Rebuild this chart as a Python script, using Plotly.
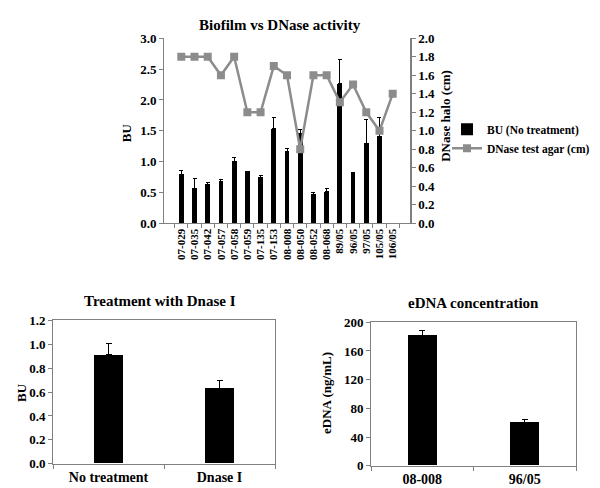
import plotly.graph_objects as go

# ---- Data ----
strains = ["07-029", "07-035", "07-042", "07-057", "07-058", "07-059", "07-135", "07-153",
           "08-008", "08-050", "08-052", "08-068", "89/05", "96/05", "97/05", "105/05", "106/05"]
bu_values = [0.80, 0.57, 0.63, 0.68, 1.00, 0.84, 0.75, 1.53, 1.16, 1.45, 0.47, 0.51, 2.26, 0.82, 1.30, 1.41, None]
bu_errors = [0.05, 0.15, 0.03, 0.03, 0.06, 0.0, 0.03, 0.18, 0.06, 0.07, 0.03, 0.06, 0.39, 0.0, 0.38, 0.30, 0]
dnase_halo = [1.8, 1.8, 1.8, 1.6, 1.8, 1.2, 1.2, 1.7, 1.6, 0.8, 1.6, 1.6, 1.31, 1.5, 1.2, 1.0, 1.4]

treat_labels = ["No treatment", "Dnase I"]
treat_values = [0.91, 0.63]
treat_errors = [0.10, 0.07]

edna_labels = ["08-008", "96/05"]
edna_values = [182, 60]
edna_errors = [7, 4]

FONT = "Liberation Serif"
W, H = 600, 488


def px(x):
    return x / W


def py(y):
    return 1 - y / H


fig = go.Figure()

fig.add_trace(go.Bar(
    x=strains, y=bu_values, name="BU (No treatment)",
    marker=dict(color="black", line=dict(width=0)), width=0.36,
    error_y=dict(type="data", array=bu_errors, arrayminus=[0] * len(bu_errors),
                 symmetric=False, color="black", thickness=1, width=2),
    xaxis="x", yaxis="y"))

fig.add_trace(go.Scatter(
    x=strains, y=dnase_halo, name="DNase test agar (cm)", mode="lines+markers",
    line=dict(color="#8c8c8c", width=2.5),
    marker=dict(symbol="square", size=8, color="#8c8c8c"),
    xaxis="x", yaxis="y2"))

fig.add_trace(go.Bar(
    x=treat_labels, y=treat_values, showlegend=False,
    marker=dict(color="black", line=dict(width=0)), width=0.27,
    error_y=dict(type="data", array=treat_errors, arrayminus=[0, 0], symmetric=False,
                 color="black", thickness=1, width=3),
    xaxis="x3", yaxis="y3"))

fig.add_trace(go.Bar(
    x=edna_labels, y=edna_values, showlegend=False,
    marker=dict(color="black", line=dict(width=0)), width=0.28,
    error_y=dict(type="data", array=edna_errors, arrayminus=[0, 0], symmetric=False,
                 color="black", thickness=1, width=3),
    xaxis="x4", yaxis="y4"))

tickfont = dict(family=FONT, size=13, color="black", weight="bold")
axcol = "#808080"

fig.update_layout(
    width=W, height=H, margin=dict(l=0, r=0, t=0, b=0),
    paper_bgcolor="white", plot_bgcolor="white",
    font=dict(family=FONT, color="black"),
    bargap=0,
    xaxis=dict(domain=[px(156), px(402)], anchor="y", type="category",
               tickmode="array", tickvals=strains, ticktext=strains,
               showline=True, linecolor=axcol, linewidth=1, ticks="outside",
               tickson="boundaries", ticklen=4, tickcolor=axcol, tickangle=-90,
               tickfont=dict(family=FONT, size=11, color="black", weight="bold"),
               showgrid=False, zeroline=False),
    yaxis=dict(domain=[py(215), py(24)], anchor="x", range=[0, 3.0], dtick=0.5,
               tickformat=".1f", showline=True, linecolor=axcol, linewidth=1,
               ticks="outside", ticklen=4, tickcolor=axcol, tickfont=tickfont,
               showgrid=False, zeroline=False),
    yaxis2=dict(overlaying="y", side="right", anchor="x", range=[0, 2.0], dtick=0.2,
                tickformat=".1f", showline=True, linecolor=axcol, linewidth=1.5,
                ticks="outside", ticklen=4, tickcolor=axcol, tickfont=tickfont,
                showgrid=False, zeroline=False),
    xaxis3=dict(domain=[px(45), px(267)], anchor="y3", type="category",
                showline=True, linecolor=axcol, linewidth=1, mirror=True,
                ticks="outside", tickson="boundaries", ticklen=4, tickcolor=axcol,
                tickfont=dict(family=FONT, size=14, color="black", weight="bold"),
                showgrid=False, zeroline=False),
    yaxis3=dict(domain=[py(463), py(315)], anchor="x3", range=[0, 1.2], dtick=0.2,
                tickformat=".1f", showline=True, linecolor=axcol, linewidth=1, mirror=True,
                ticks="outside", ticklen=4, tickcolor=axcol, tickfont=tickfont,
                showgrid=False, zeroline=False),
    xaxis4=dict(domain=[px(363), px(568)], anchor="y4", type="category",
                showline=True, linecolor=axcol, linewidth=1, mirror=True,
                ticks="outside", tickson="boundaries", ticklen=4, tickcolor=axcol,
                tickfont=dict(family=FONT, size=14, color="black", weight="bold"),
                showgrid=False, zeroline=False),
    yaxis4=dict(domain=[py(465), py(317)], anchor="x4", range=[0, 200], dtick=40,
                showline=True, linecolor=axcol, linewidth=1, mirror=True,
                ticks="outside", ticklen=4, tickcolor=axcol, tickfont=tickfont,
                showgrid=False, zeroline=False),
    legend=dict(x=px(439), y=py(103), xanchor="left", yanchor="top",
                font=dict(family=FONT, size=11.5, color="black", weight="bold"),
                bgcolor="rgba(0,0,0,0)", tracegroupgap=0, itemwidth=30),
)

title_font = dict(family=FONT, size=15, color="black", weight="bold")
label_font = dict(family=FONT, size=13, color="black", weight="bold")
annos = [
    dict(text="Biofilm vs DNase activity", x=px(272), y=py(10), font=title_font),
    dict(text="Treatment with Dnase I", x=px(152), y=py(295), font=title_font),
    dict(text="eDNA concentration", x=px(465), y=py(297), font=title_font),
    dict(text="BU", x=px(118), y=py(122), font=label_font, textangle=-90),
    dict(text="DNase halo (cm)", x=px(438), y=py(104), font=label_font, textangle=-90),
    dict(text="BU", x=px(13), y=py(390), font=label_font, textangle=-90),
    dict(text="eDNA (ng/mL)", x=px(318), y=py(390), font=label_font, textangle=-90),
]
for a in annos:
    fig.add_annotation(xref="paper", yref="paper", showarrow=False,
                       xanchor="center", yanchor="middle", **a)

fig.write_html("out.html")
